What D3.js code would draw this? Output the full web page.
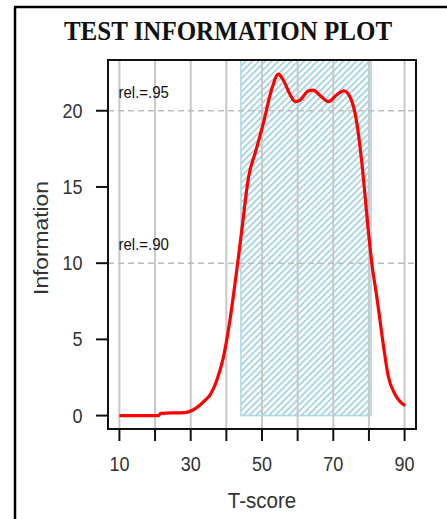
<!DOCTYPE html>
<html lang="en">
<head>
<meta charset="utf-8">
<title>Test Information Plot</title>
<script src="https://cdn.jsdelivr.net/npm/d3@7"></script>
<style>
    body { margin: 0; background: #fff; }
    svg { display: block; }
</style>
</head>
<body>
<script>

// T-score grid and information values
var tScore = [10, 21, 21.6, 28.4, 30.5, 32.6, 34, 35.4, 37.3, 39.2, 41, 42.9, 44.3, 46.2,
              48.3, 50.4, 52.7, 54.6, 56, 57.9, 59.3, 60.7, 63, 64.4, 66.3, 68.6, 71, 73,
              74.7, 76.6, 78, 79.8, 80.8, 82.2, 84, 85.4, 87.3, 88.8, 90.2];
var info   = [0, 0, 0.15, 0.2, 0.35, 0.7, 1.0, 1.35, 2.3, 3.85, 6.25, 9.5, 12.1, 15.6,
              17.4, 19.2, 21.4, 22.4, 22.0, 21.05, 20.6, 20.7, 21.3, 21.35, 21.0, 20.6, 21.05, 21.3,
              20.9, 19.2, 16.6, 12.2, 10.0, 7.8, 4.7, 2.6, 1.4, 0.9, 0.65];

var xTicks = [10, 20, 30, 40, 50, 60, 70, 80, 90];
var xLabels = [10, 30, 50, 70, 90];
var yTicks = [0, 5, 10, 15, 20];
var relLines = [{ value: 20, label: "rel.=.95" }, { value: 10, label: "rel.=.90" }];
var band = [44.1, 80.6];   // shaded T-score range

var W = 447, H = 519;
var pL = 108, pR = 416, pT = 60, pB = 429;
var sy = 1.1;   // the picture is a little taller than wide, text too

var x = d3.scaleLinear().domain([6.8, 93.2]).range([pL, pR]);
var y = d3.scaleLinear().domain([-0.88, 23.33]).range([pB, pT]);

var svg = d3.select("body").append("svg")
    .attr("width", W)
    .attr("height", H);

// hatch pattern for the band
var defs = svg.append("defs");
var pat = defs.append("pattern")
    .attr("id", "hatch")
    .attr("patternUnits", "userSpaceOnUse")
    .attr("width", 4.6)
    .attr("height", 4.6)
    .attr("patternTransform", "rotate(45)");
pat.append("rect")
    .attr("x", 0).attr("y", 0).attr("width", 1.7).attr("height", 4.6)
    .attr("fill", "#9fd2e2");

defs.append("clipPath").attr("id", "plotclip")
    .append("rect")
    .attr("x", pL).attr("y", pT)
    .attr("width", pR - pL).attr("height", pB - pT);

// helper: text placed at (px, py), stretched a bit vertically
function label(px, py, txt, size, anchor, rot) {
    var g = svg.append("g")
        .attr("transform", "translate(" + px + "," + py + ") scale(1," + sy + ")" + (rot ? " rotate(" + rot + ")" : ""));
    return g.append("text")
        .style("font-family", "'Liberation Sans', Arial, sans-serif")
        .style("fill", "#333")
        .attr("text-anchor", anchor)
        .attr("font-size", size)
        .text(txt);
}

// outer frame
svg.append("line").attr("x1", 15).attr("y1", 7).attr("x2", 15).attr("y2", H)
    .attr("stroke", "#000").attr("stroke-width", 2.5);
svg.append("line").attr("x1", 14).attr("y1", 7).attr("x2", W).attr("y2", 7)
    .attr("stroke", "#000").attr("stroke-width", 2.5);

// title
label(228, 40, "TEST INFORMATION PLOT", 25, "middle")
    .style("font-family", "'Liberation Serif', 'Times New Roman', serif")
    .style("font-weight", "bold")
    .style("fill", "#111");

var plot = svg.append("g").attr("clip-path", "url(#plotclip)");

// shaded band
plot.append("rect")
    .attr("x", x(band[0]))
    .attr("y", pT - 5)
    .attr("width", x(band[1]) - x(band[0]))
    .attr("height", y(0) - pT + 5)
    .attr("fill", "url(#hatch)")
    .attr("stroke", "#add8e6")
    .attr("stroke-width", 1.6);

// vertical grid lines
plot.selectAll(".vgrid")
    .data(xTicks)
    .enter()
    .append("line")
    .attr("class", "vgrid")
    .attr("x1", function(d) { return x(d); })
    .attr("x2", function(d) { return x(d); })
    .attr("y1", pT)
    .attr("y2", pB)
    .attr("stroke", "#c8c8c8")
    .attr("stroke-width", 2);

// reliability reference lines
plot.selectAll(".rel")
    .data(relLines)
    .enter()
    .append("line")
    .attr("class", "rel")
    .attr("x1", pL)
    .attr("x2", pR)
    .attr("y1", function(d) { return y(d.value); })
    .attr("y2", function(d) { return y(d.value); })
    .attr("stroke", "#bdbdbd")
    .attr("stroke-width", 1.5)
    .attr("stroke-dasharray", "6,4");

relLines.forEach(function(d) {
    label(118.5, y(d.value) - 13, d.label, 15, "start").style("fill", "#111");
});

// information curve
var line = d3.line()
    .x(function(d, i) { return x(tScore[i]); })
    .y(function(d) { return y(d); })
    .curve(d3.curveMonotoneX);

plot.append("path")
    .datum(info)
    .attr("d", line)
    .attr("fill", "none")
    .attr("stroke", "#ff0000")
    .attr("stroke-width", 3.2)
    .attr("stroke-linejoin", "round");

// plot box
svg.append("rect")
    .attr("x", pL).attr("y", pT)
    .attr("width", pR - pL).attr("height", pB - pT)
    .attr("fill", "none")
    .attr("stroke", "#111")
    .attr("stroke-width", 2);

// x axis
svg.selectAll(".xtick")
    .data(xTicks)
    .enter()
    .append("line")
    .attr("x1", function(d) { return x(d); })
    .attr("x2", function(d) { return x(d); })
    .attr("y1", pB)
    .attr("y2", pB + 12)
    .attr("stroke", "#111")
    .attr("stroke-width", 2);

xLabels.forEach(function(d) {
    label(x(d), 470.5, d, 18, "middle");
});

label(262, 508, "T-score", 20.5, "middle");

// y axis
svg.selectAll(".ytick")
    .data(yTicks)
    .enter()
    .append("line")
    .attr("x1", 96)
    .attr("x2", pL)
    .attr("y1", function(d) { return y(d); })
    .attr("y2", function(d) { return y(d); })
    .attr("stroke", "#111")
    .attr("stroke-width", 2);

yTicks.forEach(function(d) {
    label(82.5, y(d) + 7, d, 18, "end");
});

label(48, 238, "Information", 20.7, "middle", -90);

</script>
</body>
</html>
